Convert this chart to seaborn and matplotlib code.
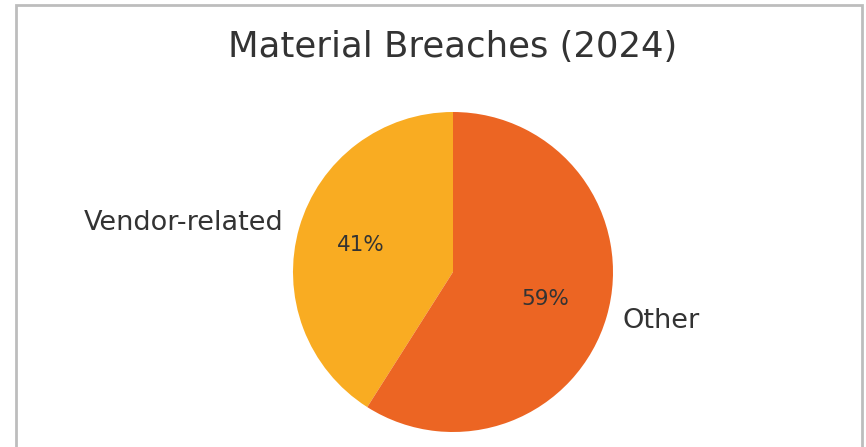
import matplotlib
matplotlib.use("Agg")
import matplotlib.pyplot as plt
from matplotlib.patches import Rectangle
import seaborn as sns

# data
categories = ["Vendor-related", "Other"]
shares = [41, 59]
colors = ["#F9AC22", "#EC6523"]
title = "Material Breaches (2024)"

sns.set_theme(style="white")
plt.rcParams["font.family"] = ["DejaVu Sans"]
text_color = "#333333"

W, H = 866, 447
fig = plt.figure(figsize=(W / 100, H / 100), dpi=100)
fig.patch.set_facecolor("white")

# screenshot frame (left, top, right edges; bottom is cut off)
fig.patches.append(
    Rectangle((16 / W, -0.05), (861.5 - 16) / W, 1.05 - 5 / H,
              transform=fig.transFigure, fill=False,
              edgecolor="#BDBDBD", linewidth=2, zorder=0)
)

# pie axes: centre (453, 272) px, radius 160 px
cx, cy, r = 453, 272, 160
ax = fig.add_axes([(cx - r) / W, 1 - (cy + r) / H, 2 * r / W, 2 * r / H])
wedges, texts, autotexts = ax.pie(
    shares,
    labels=categories,
    colors=colors,
    startangle=90,
    autopct="%1.0f%%",
    pctdistance=0.6,
    labeldistance=1.1,
    wedgeprops={"linewidth": 0},
    textprops={"color": text_color},
)
for t in texts:
    t.set_fontsize(19.5)
for t in autotexts:
    t.set_fontsize(15.5)
ax.set_xlim(-1, 1)
ax.set_ylim(-1, 1)
ax.set_aspect("equal")

fig.text(453 / W, 1 - 47 / H, title, ha="center", va="center",
         fontsize=25.6, color=text_color)

fig.savefig("out.png", dpi=100)
plt.close(fig)
